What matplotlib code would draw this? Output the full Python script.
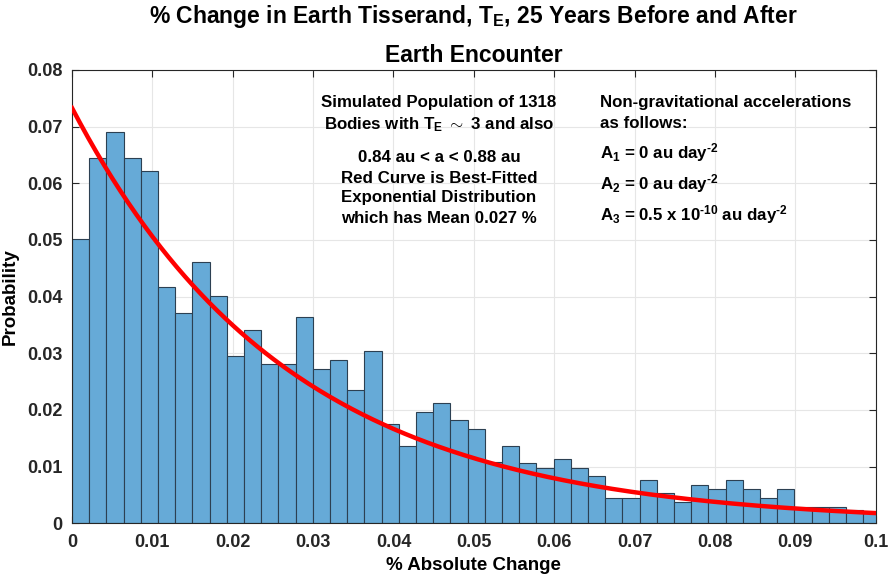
import numpy as np
import matplotlib
matplotlib.use('Agg')
import matplotlib.pyplot as plt

plt.rcParams['font.family'] = ['Liberation Sans', 'DejaVu Sans']
plt.rcParams['font.weight'] = 'bold'
plt.rcParams['mathtext.fontset'] = 'custom'
plt.rcParams['mathtext.rm'] = 'Liberation Sans:bold'
plt.rcParams['mathtext.bf'] = 'Liberation Sans:bold'
plt.rcParams['mathtext.it'] = 'Liberation Sans:bold'
plt.rcParams['mathtext.default'] = 'bf'

# histogram (probability per bin)
bin_width = 0.00214
probs = [0.0501, 0.0644, 0.0690, 0.0644, 0.0622, 0.0417, 0.0371, 0.0462, 0.0402, 0.0295,
         0.0341, 0.0281, 0.0281, 0.0364, 0.0272, 0.0288, 0.0235, 0.0304, 0.0175, 0.0136,
         0.0196, 0.0212, 0.0182, 0.0166, 0.0108, 0.0136, 0.0106, 0.0097, 0.0114, 0.0098,
         0.0083, 0.0045, 0.0045, 0.0076, 0.0053, 0.0038, 0.0068, 0.0060, 0.0076, 0.0060,
         0.0045, 0.0060, 0.0029, 0.0029, 0.0029, 0.0024, 0.0019]

# fitted exponential
fit_mean = 0.027
fit_peak = 0.0733

xticks = [0, 0.01, 0.02, 0.03, 0.04, 0.05, 0.06, 0.07, 0.08, 0.09, 0.1]
xticklabels = ['0', '0.01', '0.02', '0.03', '0.04', '0.05', '0.06', '0.07', '0.08', '0.09', '0.1']
yticks = [0, 0.01, 0.02, 0.03, 0.04, 0.05, 0.06, 0.07, 0.08]
yticklabels = ['0', '0.01', '0.02', '0.03', '0.04', '0.05', '0.06', '0.07', '0.08']

left_text = ['Simulated Population of 1318',
             r'Bodies with T$_{E}$ $\sim$ 3 and also',
             '0.84 au < a < 0.88 au',
             'Red Curve is Best-Fitted',
             'Exponential Distribution',
             'which has Mean 0.027 %']
right_text = ['Non-gravitational accelerations',
              'as follows:',
              r'A$_{1}$ = 0 au day$^{\text{-2}}$',
              r'A$_{2}$ = 0 au day$^{\text{-2}}$',
              r'A$_{3}$ = 0.5 x 10$^{\text{-10}}$ au day$^{\text{-2}}$']

fig = plt.figure(figsize=(8.88, 5.78), dpi=100)
ax = fig.add_axes([0.0811, 0.0946, 0.9050, 0.7843])

edges = np.arange(len(probs)) * bin_width
ax.bar(edges, probs, width=bin_width, align='edge',
       color='#66aad7', edgecolor='#2c4052', linewidth=0.8, zorder=2)

xs = np.linspace(0, 0.1, 300)
ax.plot(xs, fit_peak * np.exp(-xs / fit_mean), color='red', linewidth=3.2, zorder=3)

ax.set_xlim(0, 0.1)
ax.set_ylim(0, 0.08)
ax.set_xticks(xticks)
ax.set_xticklabels(xticklabels)
ax.set_yticks(yticks)
ax.set_yticklabels(yticklabels)
ax.tick_params(direction='in', length=5, width=0.8, colors='#262626',
               labelsize=13, top=True, right=True, labelcolor='#262626')
ax.tick_params(axis='x', pad=8)
ax.tick_params(axis='y', pad=7)
ax.grid(True, color='#e6e6e6', linewidth=0.8, zorder=0)
ax.set_axisbelow(True)
for s in ax.spines.values():
    s.set_color('#262626')
    s.set_linewidth(0.8)

ax.set_xlabel('% Absolute Change', fontsize=13.5, fontweight='bold', labelpad=4)
ax.set_ylabel('Probability', fontsize=13.5, fontweight='bold', labelpad=6)
ax.set_title('% Change in Earth Tisserand, T$_{E}$, 25 Years Before and After\nEarth Encounter',
             fontsize=16.5, fontweight='bold', linespacing=1.75, pad=6)

# annotation blocks
left_y = [103, 125, 157, 178, 198, 219]
for line, yp in zip(left_text, left_y):
    fig.text(439 / 888, 1 - yp / 578, line, ha='center', va='center',
             fontsize=12.2, fontweight='bold')
right_y = [103, 124, 153, 184, 215]
for line, yp in zip(right_text, right_y):
    fig.text(600 / 888, 1 - yp / 578, line, ha='left', va='center',
             fontsize=12.2, fontweight='bold')

fig.savefig('out.png', dpi=100)
